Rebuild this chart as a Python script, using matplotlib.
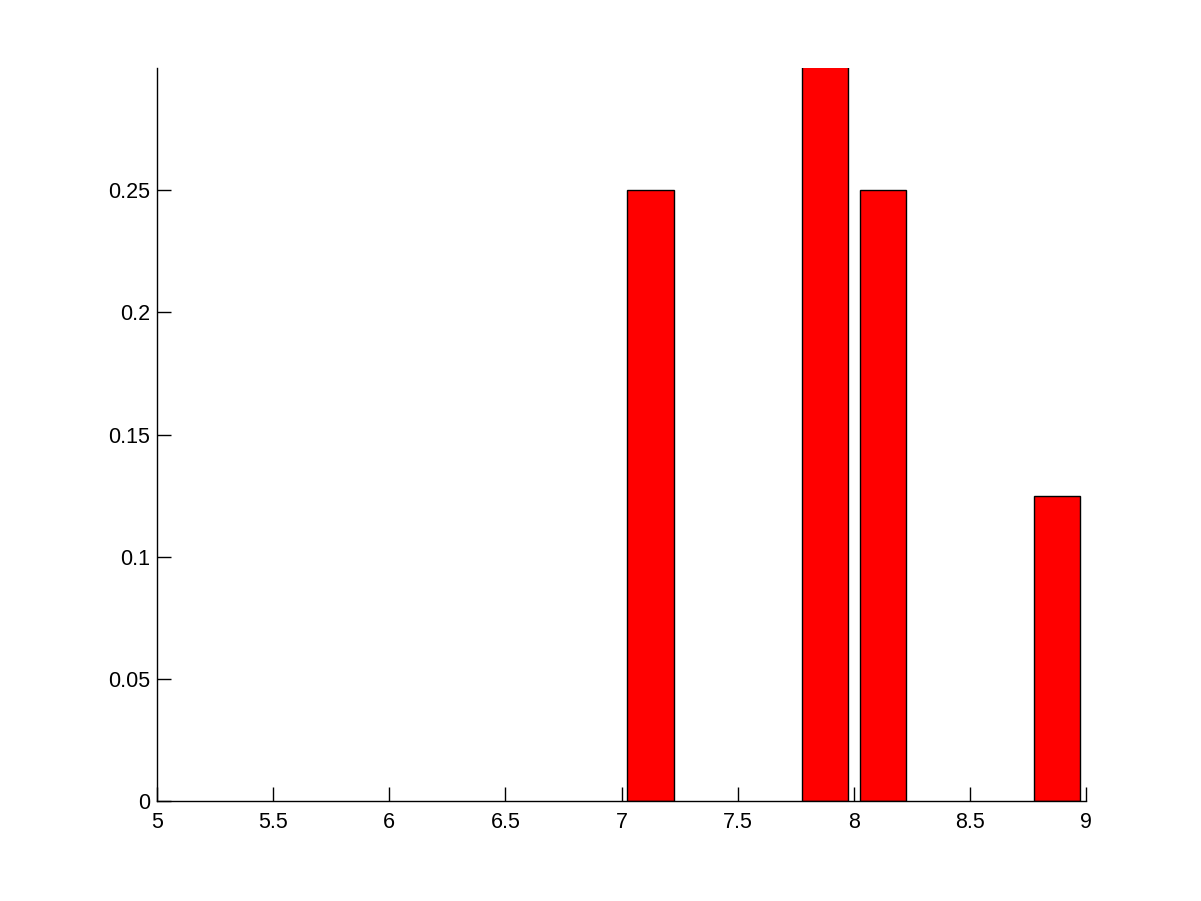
import matplotlib
matplotlib.use("Agg")
import matplotlib.pyplot as plt

bin_centers = [7.125, 7.875, 8.125, 8.875]
frequencies = [0.25, 0.375, 0.25, 0.125]
x_ticks = [5, 5.5, 6, 6.5, 7, 7.5, 8, 8.5, 9]
x_tick_labels = ["5", "5.5", "6", "6.5", "7", "7.5", "8", "8.5", "9"]
y_ticks = [0, 0.05, 0.1, 0.15, 0.2, 0.25]
y_tick_labels = ["0", "0.05", "0.1", "0.15", "0.2", "0.25"]

plt.rcParams['font.family'] = ['Liberation Sans', 'DejaVu Sans']
fig = plt.figure(figsize=(12.01, 9.01), dpi=100)
ax = fig.add_axes([0.1307, 0.111, 0.7736, 0.8135])
ax.bar(bin_centers, frequencies, width=0.2, color='#ff0000', edgecolor='black', linewidth=1.0)
ax.set_xlim(5, 9)
ax.set_ylim(0, 0.3)
ax.set_xticks(x_ticks)
ax.set_xticklabels(x_tick_labels)
ax.set_yticks(y_ticks)
ax.set_yticklabels(y_tick_labels)
ax.spines['top'].set_visible(False)
ax.spines['right'].set_visible(False)
for s in ['left', 'bottom']:
    ax.spines[s].set_linewidth(1.0)
ax.tick_params(direction='in', length=10, width=1.0, labelsize=15.5)
ax.tick_params(axis='x', pad=8)
ax.tick_params(axis='y', pad=5)
fig.savefig('out.png', dpi=100)
